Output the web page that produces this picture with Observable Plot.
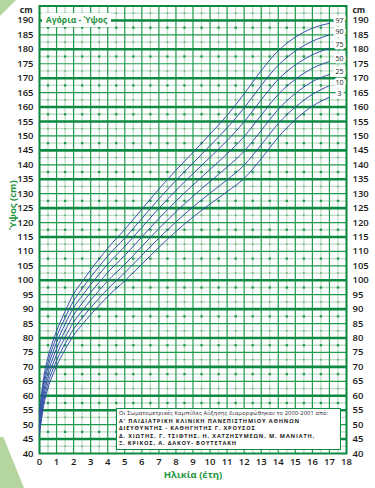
<!DOCTYPE html>
<html><head><meta charset="utf-8">
<script src="https://cdn.jsdelivr.net/npm/d3@7"></script>
<script src="https://cdn.jsdelivr.net/npm/@observablehq/plot@0.6"></script>
<style>
html,body{margin:0;padding:0;background:#fff;}
#wrap{position:relative;width:375px;height:488px;overflow:hidden;font-family:"Open Sans",sans-serif;}
#wrap svg{position:absolute;left:0;top:0;}
.tri1{position:absolute;left:0;top:0;width:16px;height:16px;background:#b5d59e;clip-path:polygon(0 0,100% 0,0 100%);}
.tri2{position:absolute;left:0;top:437px;width:24px;height:51px;background:#b5d59e;clip-path:polygon(0 0,14% 0,100% 100%,0 100%);}
#title{position:absolute;left:42px;top:13px;width:69px;height:14px;background:#fff;color:#1f9440;font-weight:700;font-size:8.6px;line-height:14px;text-align:center;white-space:nowrap;}
#caption{position:absolute;left:116px;top:408px;width:221px;height:39px;background:#fff;border:1.5px solid #0e8a43;color:#1a1a1a;padding:1px 0 0 2px;white-space:nowrap;overflow:hidden;}
#caption div{height:7.5px;line-height:7.5px;font-size:5.6px;font-weight:700;letter-spacing:0.85px;}
#caption div.n{font-weight:400;font-size:5.6px;letter-spacing:0.2px;}
</style></head>
<body>
<div id="wrap"></div>
<script>
// Ages (years) and percentile heights (cm)
const ages = [0,0.25,0.5,0.75,1,1.5,2,2.5,3,3.5,4,5,6,7,8,9,10,11,12,13,14,15,16,17];
const p97 = [54.4,66.4,73.4,78.3,82.4,89.2,95.3,99.5,103.6,107.4,111.1,117.6,124.6,131.6,138.1,144.3,150.6,157.1,164.6,172.6,179.5,184.2,187.3,189.0];
const p90 = [53.1,64.8,71.6,76.4,80.4,87.0,92.9,97.1,101.1,104.8,108.4,114.6,121.4,128.2,134.6,140.6,146.6,152.8,159.7,167.5,174.5,179.4,182.8,185.0];
const p75 = [51.9,63.2,69.9,74.5,78.4,84.8,90.5,94.6,98.5,102.1,105.6,111.7,118.3,124.9,131.1,136.9,142.6,148.4,154.9,162.5,169.6,174.6,178.1,180.4];
const p50 = [50.5,61.5,68.0,72.5,76.3,82.5,88.0,92.0,95.8,99.3,102.7,108.6,115.0,121.4,127.4,133.0,138.4,143.8,149.8,157.2,164.4,169.6,173.4,175.8];
const p25 = [49.2,59.8,66.2,70.5,74.2,80.2,85.5,89.4,93.1,96.5,99.8,105.5,111.7,117.9,123.7,129.1,134.2,139.2,144.7,151.9,159.2,164.7,168.8,171.3];
const p10 = [47.9,58.2,64.4,68.6,72.2,78.0,83.1,86.9,90.5,93.8,97.0,102.6,108.6,114.6,120.2,125.4,130.2,134.8,139.9,146.9,154.3,160.0,164.4,167.4];
const p3  = [46.7,56.7,62.7,66.8,70.3,76.0,80.9,84.6,88.1,91.3,94.4,99.8,105.6,111.4,116.9,121.9,126.4,130.7,135.3,142.1,149.6,155.6,160.3,163.4];
const percentiles = ["97","90","75","50","25","10","3"];
const seriesVals = [p97,p90,p75,p50,p25,p10,p3];

// Axis / grid values
const yTicks = [40,45,50,55,60,65,70,75,80,85,90,95,100,105,110,115,120,125,130,135,140,145,150,155,160,165,170,175,180,185,190];
const yThick = [190,180,170,160,155,145,135,125,115,100,90,80,70,60,55,45];
const yLight = [42.5,47.5,52.5,57.5,62.5,67.5,72.5,77.5,82.5,87.5,92.5,97.5,102.5,107.5,112.5,117.5,122.5,127.5,132.5,137.5,142.5,147.5,152.5,157.5,162.5,167.5,172.5,177.5,182.5,187.5,192.5];
const yDotBig = [47.5,57.5,67.5,77.5,87.5,97.5,107.5,117.5,127.5,137.5,147.5,157.5,167.5,177.5,187.5];
const yDotSmall = [42.5,52.5,62.5,72.5,82.5,92.5,102.5,112.5,122.5,132.5,142.5,152.5,162.5,172.5,182.5,192.5];
const xTicks = [0,1,2,3,4,5,6,7,8,9,10,11,12,13,14,15,16,17,18];
const xHalf = [0.5,1.5,2.5,3.5,4.5,5.5,6.5,7.5,8.5,9.5,10.5,11.5,12.5,13.5,14.5,15.5,16.5,17.5];

const rows = seriesVals.flatMap((vals, i) => vals.map((h, j) => ({age: ages[j], h, p: percentiles[i]})));
const ends = seriesVals.map((vals, i) => ({age: ages[ages.length - 1], h: vals[vals.length - 1], p: percentiles[i]}));
const dotsBig = xHalf.flatMap(x => yDotBig.map(y => ({x, y})));
const dotsSmall = xHalf.flatMap(x => yDotSmall.map(y => ({x, y})));

const GREEN = "#0e8a43", MED = "#1f9a4c", LIGHT = "#bddcc4";

const chart = Plot.plot({
  width: 375, height: 488,
  marginLeft: 39, marginRight: 29, marginTop: 5.5, marginBottom: 35,
  x: {domain: [0, 18], axis: null},
  y: {domain: [40, 195], axis: null},
  style: {fontFamily: "'Open Sans', sans-serif", background: "transparent", color: "#1a1a1a"},
  marks: [
    Plot.ruleX(xHalf, {stroke: LIGHT, strokeWidth: 1.3}),
    Plot.ruleY(yLight, {stroke: LIGHT, strokeWidth: 1.3}),
    Plot.ruleX(xTicks, {stroke: MED, strokeWidth: 1.2}),
    Plot.ruleY(yTicks, {stroke: MED, strokeWidth: 1.2}),
    Plot.ruleY(yThick, {stroke: GREEN, strokeWidth: 2.6}),
    Plot.dot(dotsBig, {x: "x", y: "y", symbol: "square", r: 1.3, fill: MED, stroke: null}),
    Plot.dot(dotsSmall, {x: "x", y: "y", symbol: "square", r: 0.9, fill: "#5fae78", stroke: null}),
    Plot.frame({stroke: GREEN, strokeWidth: 2}),
    Plot.line(rows, {x: "age", y: "h", z: "p", stroke: "#3350a6", strokeWidth: 1, curve: "monotone-x"}),
    Plot.text(ends, {x: "age", y: "h", text: "p", dx: 10, dy: -3, fontSize: 7, fill: "#222", stroke: "white", strokeWidth: 5}),
    Plot.axisY(yTicks, {anchor: "left", tickSize: 0, tickPadding: 6, fontSize: 9.5, fontWeight: 600, label: null}),
    Plot.axisY(yTicks, {anchor: "right", tickSize: 0, tickPadding: 6, fontSize: 9.5, fontWeight: 600, label: null}),
    Plot.axisX(xTicks, {anchor: "bottom", tickSize: 0, tickPadding: 5, fontSize: 9.5, fontWeight: 600, label: null}),
    Plot.text(["cm"], {frameAnchor: "top-left", textAnchor: "end", dx: -7, dy: 1, fontSize: 8.5, fontWeight: 700, fill: "#222"}),
    Plot.text(["cm"], {frameAnchor: "top-right", textAnchor: "start", dx: 6, dy: 1, fontSize: 8.5, fontWeight: 700, fill: "#222"}),
    Plot.text(["Ηλικία (έτη)"], {frameAnchor: "bottom", dy: 24, fontSize: 9.5, fontWeight: 700, fill: "#1f9440"}),
    Plot.text(["Ύψος (cm)"], {frameAnchor: "left", dx: -27, dy: 0, rotate: -90, fontSize: 9.5, fontWeight: 700, fill: "#1f9440"})
  ]
});

const wrap = document.getElementById("wrap");
wrap.appendChild(chart);
wrap.insertAdjacentHTML("beforeend", `
<div class="tri1"></div><div class="tri2"></div>
<div id="title">Αγόρια - Ύψος</div>
<div id="caption"><div class="n">Οι Σωματομετρικές Καμπύλες Αύξησης διαμορφώθηκαν το 2000-2001 από:</div><div>Α' ΠΑΙΔΙΑΤΡΙΚΗ ΚΛΙΝΙΚΗ ΠΑΝΕΠΙΣΤΗΜΙΟΥ ΑΘΗΝΩΝ</div><div>ΔΙΕΥΘΥΝΤΗΣ - ΚΑΘΗΓΗΤΗΣ Γ. ΧΡΟΥΣΟΣ</div><div>Δ. ΧΙΩΤΗΣ, Γ. ΤΣΙΦΤΗΣ, Η. ΧΑΤΖΗΣΥΜΕΩΝ, Μ. ΜΑΝΙΑΤΗ,</div><div>Ξ. ΚΡΙΚΟΣ, Α. ΔΑΚΟΥ- ΒΟΥΤΕΤΑΚΗ</div></div>`);
</script>
</body></html>
